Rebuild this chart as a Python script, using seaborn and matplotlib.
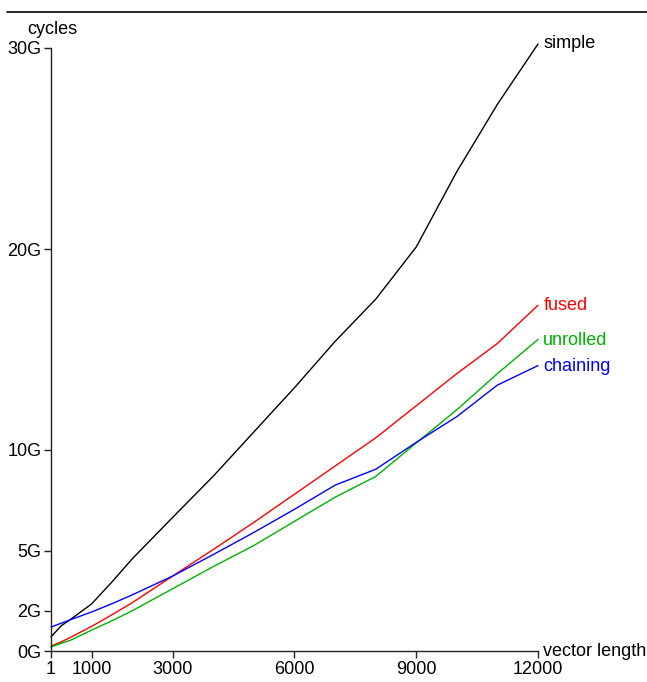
import numpy as np
import pandas as pd
import matplotlib
matplotlib.use("Agg")
import matplotlib.pyplot as plt
import seaborn as sns
from matplotlib.lines import Line2D

# vector lengths measured
lengths = [1, 250, 500, 1000, 1500, 2000, 3000, 4000, 5000, 6000,
           7000, 8000, 9000, 10000, 11000, 12000]

# cycles, in G
simple = [0.7, 1.25, 1.6, 2.34, 3.43, 4.58, 6.65, 8.7, 10.9, 13.1,
          15.4, 17.5, 20.1, 23.85, 27.2, 30.2]
fused = [0.25, 0.45, 0.7, 1.22, 1.8, 2.4, 3.73, 5.05, 6.4, 7.8,
         9.2, 10.6, 12.2, 13.8, 15.3, 17.2]
unrolled = [0.2, 0.38, 0.55, 1.04, 1.5, 2.0, 3.1, 4.2, 5.25, 6.45,
            7.65, 8.68, 10.35, 12.0, 13.8, 15.5]
chaining = [1.19, 1.38, 1.57, 1.94, 2.35, 2.79, 3.73, 4.8, 5.9, 7.05,
            8.25, 9.04, 10.38, 11.66, 13.23, 14.2]

series_names = ["simple", "fused", "unrolled", "chaining"]
colors = {"simple": "black", "fused": "#ff0000",
          "unrolled": "#00b000", "chaining": "#0000ff"}

xticks = [1, 1000, 3000, 6000, 9000, 12000]
yticks = [0, 2, 5, 10, 20, 30]
ytick_labels = ["0G", "2G", "5G", "10G", "20G", "30G"]

df = pd.DataFrame({
    "length": lengths * 4,
    "cycles": simple + fused + unrolled + chaining,
    "variant": np.repeat(series_names, len(lengths)),
})

sns.set_style("ticks")
plt.rcParams["font.family"] = ["Liberation Sans", "DejaVu Sans"]
plt.rcParams["text.color"] = "black"

fig = plt.figure(figsize=(6.47, 6.82), dpi=100)
ax = fig.add_axes([51 / 647, 1 - 651 / 682, (538 - 51) / 647, (651 - 48) / 682])

sns.lineplot(data=df, x="length", y="cycles", hue="variant",
             palette=colors, hue_order=series_names, linewidth=1,
             legend=False, ax=ax, clip_on=False)

ax.set_xlim(1, 12000)
ax.set_ylim(0, 30)
ax.set_xticks(xticks)
ax.set_xticklabels([str(t) for t in xticks])
ax.set_yticks(yticks)
ax.set_yticklabels(ytick_labels)
ax.set_xlabel("")
ax.set_ylabel("")
ax.tick_params(labelsize=13, length=5, width=1, color="#222222",
               labelcolor="black", pad=2)
sns.despine(ax=ax)
for s in ["left", "bottom"]:
    ax.spines[s].set_color("#222222")
    ax.spines[s].set_linewidth(1)

# end-of-line labels
ends = {"simple": simple[-1], "fused": fused[-1],
        "unrolled": unrolled[-1] - 0.05, "chaining": chaining[-1] - 0.05}
for name in series_names:
    ax.text(12000 + 130, ends[name], name, color=colors[name], fontsize=13,
            va="center", ha="left", clip_on=False)

ax.text(12000 + 130, 0, "vector length", fontsize=13, color="black",
        va="center", ha="left", clip_on=False)
fig.text(27 / 647, 1 - 29 / 682, "cycles", fontsize=13, color="black",
         va="center", ha="left")

fig.add_artist(Line2D([7 / 647, 1], [1 - 12 / 682, 1 - 12 / 682],
                      color="black", linewidth=1.2, transform=fig.transFigure))

fig.savefig("out.png", dpi=100)
